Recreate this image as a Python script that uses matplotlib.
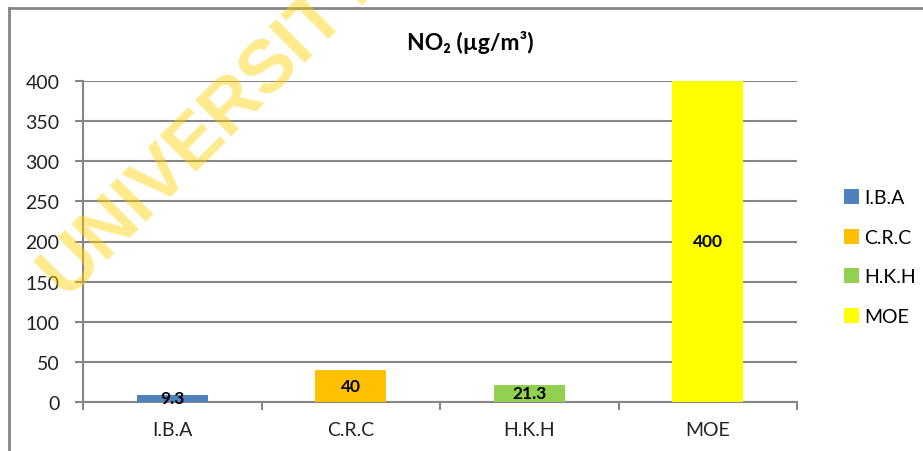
import matplotlib
matplotlib.use("Agg")
import matplotlib.pyplot as plt
from matplotlib.lines import Line2D
from matplotlib.ticker import MultipleLocator, FixedLocator

# Data
sites = ["I.B.A", "C.R.C", "H.K.H", "MOE"]
no2_values = [9.3, 40, 21.3, 400]
value_labels = ["9.3", "40", "21.3", "400"]
bar_colors = ["#4F81BD", "#FFC000", "#92D050", "#FFFF00"]

plt.rcParams['font.family'] = ['Lato', 'DejaVu Sans']
grid_gray = "#868686"

fig = plt.figure(figsize=(9.23, 4.52), dpi=100)
ax = fig.add_axes([83 / 923, 1 - 403 / 452, (797 - 83) / 923, (403 - 82) / 452])

# Bars, one per site (each its own legend entry)
x = range(len(sites))
bars = ax.bar(x, no2_values, width=0.4, color=bar_colors, zorder=3)

# data labels centered in each bar
for b, txt in zip(bars, value_labels):
    ax.text(b.get_x() + b.get_width() / 2, b.get_height() / 2, txt,
            ha='center', va='center', fontsize=12.5, fontweight='bold',
            color='black', zorder=4)

ax.set_xlim(-0.5, len(sites) - 0.5)
ax.set_ylim(0, 400)
ax.yaxis.set_major_locator(MultipleLocator(50))
ax.yaxis.grid(True, color=grid_gray, linewidth=1.5, zorder=0)
ax.set_axisbelow(True)

ax.set_xticks(list(x))
ax.set_xticklabels(sites)
ax.xaxis.set_minor_locator(FixedLocator([i - 0.5 for i in range(len(sites) + 1)]))
ax.tick_params(axis='x', which='major', length=0, pad=14, labelsize=14, colors='#222222')
ax.tick_params(axis='x', which='minor', length=6, width=1.5, color=grid_gray)
ax.tick_params(axis='y', length=6, width=1.5, color=grid_gray, pad=11,
               labelsize=14, labelcolor='#222222')

for side in ['top', 'right']:
    ax.spines[side].set_visible(False)
for side in ['left', 'bottom']:
    ax.spines[side].set_color(grid_gray)
    ax.spines[side].set_linewidth(1.5)

fig.text(470 / 923, 1 - 42 / 452, "NO\u2082 (\u00b5g/m\u00b3)", ha='center', va='center',
         fontsize=16.5, fontweight='bold')

# legend
leg = fig.legend(bars, sites, loc='center left',
                 bbox_to_anchor=(826 / 923, 1 - 258 / 452), frameon=False,
                 handlelength=0.8, handleheight=0.8, handletextpad=0.25,
                 labelspacing=1.15, fontsize=14)

# outer chart border (left and top visible)
fig.add_artist(Line2D([9 / 923, 9 / 923], [0, 1 - 9 / 452], transform=fig.transFigure,
                      color=grid_gray, linewidth=2))
fig.add_artist(Line2D([9 / 923, 1], [1 - 9 / 452, 1 - 9 / 452], transform=fig.transFigure,
                      color=grid_gray, linewidth=2))

# watermark
fig.text(210 / 923, 1 - 125 / 452, "UNIVERSITY", rotation=45, ha='center', va='center',
         fontsize=54, fontweight='bold', family='Liberation Sans',
         color='#FFD200', alpha=0.45, zorder=10)

fig.savefig("out.png", dpi=100, facecolor='white')
